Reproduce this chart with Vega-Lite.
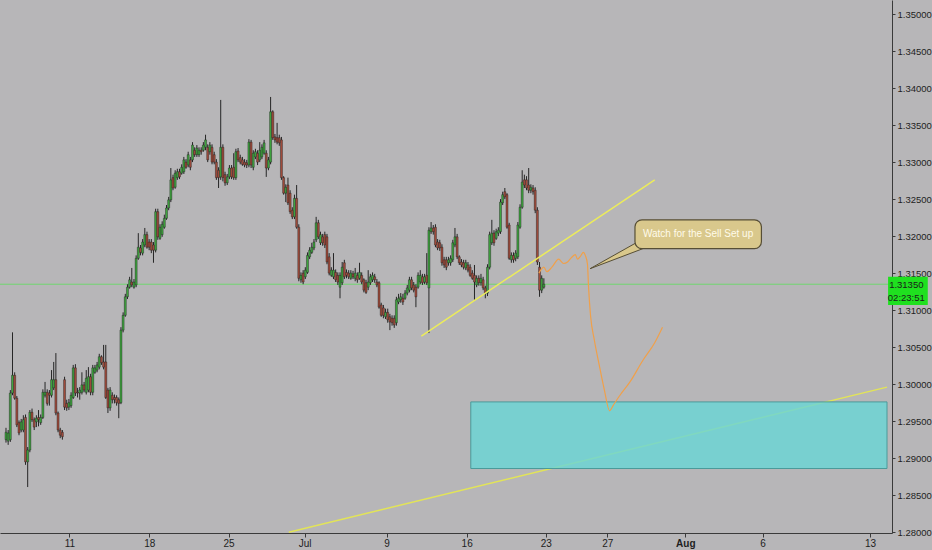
{
"$schema":"https://vega.github.io/schema/vega-lite/v6.json",
"width":892,"height":533,
"autosize":{"type":"none"},
"padding":{"left":0,"top":0,"right":40,"bottom":17},
"background":"#b7b6b8",
"config":{"view":{"stroke":null},"font":"Liberation Sans"},
"resolve":{"axis":{"x":"independent","y":"independent"}},
"datasets":{
"candles":[
{"i":0,"o":1.2925,"h":1.2941,"l":1.2921,"c":1.2935},
{"i":1,"o":1.2923,"h":1.2938,"l":1.2918,"c":1.2934},
{"i":2,"o":1.2925,"h":1.2992,"l":1.2922,"c":1.2988},
{"i":3,"o":1.2988,"h":1.3070,"l":1.2985,"c":1.3012},
{"i":4,"o":1.3012,"h":1.3016,"l":1.2979,"c":1.2981},
{"i":5,"o":1.2981,"h":1.2984,"l":1.2942,"c":1.2945},
{"i":6,"o":1.2948,"h":1.2951,"l":1.2931,"c":1.2934},
{"i":7,"o":1.2938,"h":1.2953,"l":1.2935,"c":1.2949},
{"i":8,"o":1.2938,"h":1.2958,"l":1.2935,"c":1.2952},
{"i":9,"o":1.2955,"h":1.2959,"l":1.2891,"c":1.2895},
{"i":10,"o":1.2895,"h":1.2915,"l":1.2861,"c":1.2911},
{"i":11,"o":1.2911,"h":1.2965,"l":1.2908,"c":1.2962},
{"i":12,"o":1.2962,"h":1.2967,"l":1.2949,"c":1.2952},
{"i":13,"o":1.2952,"h":1.2955,"l":1.2938,"c":1.2942},
{"i":14,"o":1.2949,"h":1.2958,"l":1.2942,"c":1.2954},
{"i":15,"o":1.2955,"h":1.2965,"l":1.2943,"c":1.2952},
{"i":16,"o":1.2948,"h":1.2959,"l":1.2945,"c":1.2955},
{"i":17,"o":1.2955,"h":1.2993,"l":1.2953,"c":1.2989},
{"i":18,"o":1.2985,"h":1.3003,"l":1.2982,"c":1.2989},
{"i":19,"o":1.2989,"h":1.2993,"l":1.2971,"c":1.2974},
{"i":20,"o":1.2988,"h":1.2992,"l":1.2971,"c":1.2985},
{"i":21,"o":1.2985,"h":1.3019,"l":1.2982,"c":1.3006},
{"i":22,"o":1.2995,"h":1.3030,"l":1.2992,"c":1.3006},
{"i":23,"o":1.3006,"h":1.3042,"l":1.2958,"c":1.2961},
{"i":24,"o":1.2961,"h":1.2963,"l":1.2935,"c":1.2938},
{"i":25,"o":1.2938,"h":1.2941,"l":1.2927,"c":1.2931},
{"i":26,"o":1.2935,"h":1.2938,"l":1.2925,"c":1.2929},
{"i":27,"o":1.3006,"h":1.3010,"l":1.2965,"c":1.2969},
{"i":28,"o":1.2974,"h":1.2979,"l":1.2964,"c":1.2968},
{"i":29,"o":1.2969,"h":1.2980,"l":1.2965,"c":1.2975},
{"i":30,"o":1.2971,"h":1.2989,"l":1.2968,"c":1.2985},
{"i":31,"o":1.2982,"h":1.3026,"l":1.2980,"c":1.3022},
{"i":32,"o":1.3022,"h":1.3027,"l":1.2984,"c":1.2988},
{"i":33,"o":1.2989,"h":1.2995,"l":1.2982,"c":1.2988},
{"i":34,"o":1.2988,"h":1.2996,"l":1.2979,"c":1.2992},
{"i":35,"o":1.2989,"h":1.3016,"l":1.2986,"c":1.2999},
{"i":36,"o":1.2999,"h":1.3003,"l":1.2989,"c":1.2992},
{"i":37,"o":1.2989,"h":1.3019,"l":1.2986,"c":1.3008},
{"i":38,"o":1.2992,"h":1.3023,"l":1.2989,"c":1.3010},
{"i":39,"o":1.3010,"h":1.3014,"l":1.2985,"c":1.2989},
{"i":40,"o":1.2989,"h":1.3026,"l":1.2985,"c":1.3022},
{"i":41,"o":1.3016,"h":1.3026,"l":1.3014,"c":1.3022},
{"i":42,"o":1.3019,"h":1.3030,"l":1.3016,"c":1.3026},
{"i":43,"o":1.3023,"h":1.3041,"l":1.3020,"c":1.3037},
{"i":44,"o":1.3037,"h":1.3039,"l":1.3026,"c":1.3029},
{"i":45,"o":1.3030,"h":1.3053,"l":1.3020,"c":1.3023},
{"i":46,"o":1.3030,"h":1.3053,"l":1.2980,"c":1.2982},
{"i":47,"o":1.2992,"h":1.2995,"l":1.2961,"c":1.2968},
{"i":48,"o":1.2968,"h":1.2996,"l":1.2964,"c":1.2992},
{"i":49,"o":1.2985,"h":1.2989,"l":1.2974,"c":1.2979},
{"i":50,"o":1.2982,"h":1.2986,"l":1.2974,"c":1.2979},
{"i":51,"o":1.2982,"h":1.2985,"l":1.2971,"c":1.2975},
{"i":52,"o":1.2979,"h":1.2982,"l":1.2954,"c":1.2974},
{"i":53,"o":1.2975,"h":1.3077,"l":1.2973,"c":1.3073},
{"i":54,"o":1.3073,"h":1.3097,"l":1.3070,"c":1.3093},
{"i":55,"o":1.3093,"h":1.3122,"l":1.3091,"c":1.3118},
{"i":56,"o":1.3118,"h":1.3135,"l":1.3115,"c":1.3131},
{"i":57,"o":1.3131,"h":1.3145,"l":1.3129,"c":1.3141},
{"i":58,"o":1.3138,"h":1.3157,"l":1.3131,"c":1.3134},
{"i":59,"o":1.3131,"h":1.3142,"l":1.3129,"c":1.3138},
{"i":60,"o":1.3134,"h":1.3174,"l":1.3131,"c":1.3170},
{"i":61,"o":1.3170,"h":1.3204,"l":1.3168,"c":1.3185},
{"i":62,"o":1.3184,"h":1.3188,"l":1.3174,"c":1.3178},
{"i":63,"o":1.3177,"h":1.3196,"l":1.3174,"c":1.3192},
{"i":64,"o":1.3188,"h":1.3211,"l":1.3185,"c":1.3202},
{"i":65,"o":1.3202,"h":1.3206,"l":1.3183,"c":1.3185},
{"i":66,"o":1.3192,"h":1.3196,"l":1.3181,"c":1.3185},
{"i":67,"o":1.3192,"h":1.3196,"l":1.3177,"c":1.3181},
{"i":68,"o":1.3188,"h":1.3192,"l":1.3164,"c":1.3181},
{"i":69,"o":1.3181,"h":1.3237,"l":1.3178,"c":1.3233},
{"i":70,"o":1.3233,"h":1.3237,"l":1.3195,"c":1.3199},
{"i":71,"o":1.3197,"h":1.3216,"l":1.3195,"c":1.3212},
{"i":72,"o":1.3202,"h":1.3220,"l":1.3199,"c":1.3216},
{"i":73,"o":1.3212,"h":1.3229,"l":1.3210,"c":1.3224},
{"i":74,"o":1.3224,"h":1.3242,"l":1.3222,"c":1.3238},
{"i":75,"o":1.3238,"h":1.3253,"l":1.3235,"c":1.3249},
{"i":76,"o":1.3249,"h":1.3292,"l":1.3246,"c":1.3276},
{"i":77,"o":1.3279,"h":1.3283,"l":1.3262,"c":1.3265},
{"i":78,"o":1.3266,"h":1.3289,"l":1.3264,"c":1.3285},
{"i":79,"o":1.3279,"h":1.3291,"l":1.3276,"c":1.3287},
{"i":80,"o":1.3287,"h":1.3291,"l":1.3277,"c":1.3280},
{"i":81,"o":1.3285,"h":1.3297,"l":1.3283,"c":1.3293},
{"i":82,"o":1.3287,"h":1.3307,"l":1.3284,"c":1.3303},
{"i":83,"o":1.3300,"h":1.3304,"l":1.3291,"c":1.3293},
{"i":84,"o":1.3296,"h":1.3314,"l":1.3293,"c":1.3310},
{"i":85,"o":1.3303,"h":1.3307,"l":1.3289,"c":1.3293},
{"i":86,"o":1.3303,"h":1.3327,"l":1.3300,"c":1.3323},
{"i":87,"o":1.3316,"h":1.3320,"l":1.3307,"c":1.3310},
{"i":88,"o":1.3310,"h":1.3323,"l":1.3307,"c":1.3319},
{"i":89,"o":1.3310,"h":1.3320,"l":1.3307,"c":1.3316},
{"i":90,"o":1.3316,"h":1.3320,"l":1.3310,"c":1.3314},
{"i":91,"o":1.3316,"h":1.3327,"l":1.3314,"c":1.3323},
{"i":92,"o":1.3320,"h":1.3337,"l":1.3316,"c":1.3330},
{"i":93,"o":1.3320,"h":1.3324,"l":1.3300,"c":1.3303},
{"i":94,"o":1.3314,"h":1.3327,"l":1.3310,"c":1.3323},
{"i":95,"o":1.3320,"h":1.3324,"l":1.3297,"c":1.3300},
{"i":96,"o":1.3310,"h":1.3314,"l":1.3297,"c":1.3300},
{"i":97,"o":1.3300,"h":1.3304,"l":1.3276,"c":1.3279},
{"i":98,"o":1.3289,"h":1.3293,"l":1.3265,"c":1.3279},
{"i":99,"o":1.3280,"h":1.3384,"l":1.3276,"c":1.3320},
{"i":100,"o":1.3320,"h":1.3324,"l":1.3274,"c":1.3279},
{"i":101,"o":1.3283,"h":1.3287,"l":1.3268,"c":1.3272},
{"i":102,"o":1.3272,"h":1.3284,"l":1.3269,"c":1.3280},
{"i":103,"o":1.3280,"h":1.3296,"l":1.3277,"c":1.3292},
{"i":104,"o":1.3292,"h":1.3296,"l":1.3277,"c":1.3280},
{"i":105,"o":1.3293,"h":1.3312,"l":1.3276,"c":1.3279},
{"i":106,"o":1.3279,"h":1.3318,"l":1.3276,"c":1.3314},
{"i":107,"o":1.3315,"h":1.3319,"l":1.3300,"c":1.3303},
{"i":108,"o":1.3306,"h":1.3310,"l":1.3297,"c":1.3300},
{"i":109,"o":1.3303,"h":1.3307,"l":1.3295,"c":1.3297},
{"i":110,"o":1.3300,"h":1.3304,"l":1.3293,"c":1.3296},
{"i":111,"o":1.3299,"h":1.3303,"l":1.3292,"c":1.3296},
{"i":112,"o":1.3296,"h":1.3331,"l":1.3293,"c":1.3327},
{"i":113,"o":1.3327,"h":1.3330,"l":1.3292,"c":1.3296},
{"i":114,"o":1.3293,"h":1.3316,"l":1.3289,"c":1.3312},
{"i":115,"o":1.3307,"h":1.3318,"l":1.3304,"c":1.3314},
{"i":116,"o":1.3312,"h":1.3316,"l":1.3296,"c":1.3300},
{"i":117,"o":1.3303,"h":1.3327,"l":1.3300,"c":1.3316},
{"i":118,"o":1.3307,"h":1.3324,"l":1.3304,"c":1.3320},
{"i":119,"o":1.3312,"h":1.3330,"l":1.3310,"c":1.3326},
{"i":120,"o":1.3312,"h":1.3316,"l":1.3280,"c":1.3292},
{"i":121,"o":1.3292,"h":1.3307,"l":1.3289,"c":1.3303},
{"i":122,"o":1.3300,"h":1.3388,"l":1.3297,"c":1.3368},
{"i":123,"o":1.3368,"h":1.3370,"l":1.3330,"c":1.3333},
{"i":124,"o":1.3334,"h":1.3338,"l":1.3326,"c":1.3330},
{"i":125,"o":1.3333,"h":1.3353,"l":1.3324,"c":1.3327},
{"i":126,"o":1.3333,"h":1.3337,"l":1.3322,"c":1.3326},
{"i":127,"o":1.3330,"h":1.3334,"l":1.3276,"c":1.3279},
{"i":128,"o":1.3279,"h":1.3281,"l":1.3256,"c":1.3258},
{"i":129,"o":1.3258,"h":1.3270,"l":1.3246,"c":1.3266},
{"i":130,"o":1.3269,"h":1.3279,"l":1.3242,"c":1.3245},
{"i":131,"o":1.3258,"h":1.3262,"l":1.3230,"c":1.3233},
{"i":132,"o":1.3235,"h":1.3239,"l":1.3223,"c":1.3226},
{"i":133,"o":1.3226,"h":1.3256,"l":1.3223,"c":1.3251},
{"i":134,"o":1.3251,"h":1.3269,"l":1.3210,"c":1.3212},
{"i":135,"o":1.3212,"h":1.3216,"l":1.3139,"c":1.3143},
{"i":136,"o":1.3141,"h":1.3151,"l":1.3137,"c":1.3147},
{"i":137,"o":1.3150,"h":1.3154,"l":1.3135,"c":1.3138},
{"i":138,"o":1.3145,"h":1.3158,"l":1.3142,"c":1.3154},
{"i":139,"o":1.3151,"h":1.3178,"l":1.3149,"c":1.3174},
{"i":140,"o":1.3172,"h":1.3185,"l":1.3169,"c":1.3181},
{"i":141,"o":1.3178,"h":1.3191,"l":1.3176,"c":1.3185},
{"i":142,"o":1.3184,"h":1.3196,"l":1.3181,"c":1.3192},
{"i":143,"o":1.3195,"h":1.3226,"l":1.3192,"c":1.3218},
{"i":144,"o":1.3218,"h":1.3222,"l":1.3196,"c":1.3199},
{"i":145,"o":1.3191,"h":1.3206,"l":1.3188,"c":1.3202},
{"i":146,"o":1.3199,"h":1.3203,"l":1.3187,"c":1.3191},
{"i":147,"o":1.3202,"h":1.3206,"l":1.3184,"c":1.3188},
{"i":148,"o":1.3199,"h":1.3203,"l":1.3162,"c":1.3165},
{"i":149,"o":1.3172,"h":1.3177,"l":1.3147,"c":1.3150},
{"i":150,"o":1.3147,"h":1.3158,"l":1.3145,"c":1.3154},
{"i":151,"o":1.3145,"h":1.3177,"l":1.3142,"c":1.3154},
{"i":152,"o":1.3151,"h":1.3155,"l":1.3138,"c":1.3141},
{"i":153,"o":1.3147,"h":1.3151,"l":1.3134,"c":1.3138},
{"i":154,"o":1.3131,"h":1.3151,"l":1.3116,"c":1.3147},
{"i":155,"o":1.3137,"h":1.3165,"l":1.3134,"c":1.3158},
{"i":156,"o":1.3164,"h":1.3168,"l":1.3142,"c":1.3145},
{"i":157,"o":1.3151,"h":1.3155,"l":1.3143,"c":1.3147},
{"i":158,"o":1.3150,"h":1.3154,"l":1.3142,"c":1.3145},
{"i":159,"o":1.3143,"h":1.3154,"l":1.3141,"c":1.3150},
{"i":160,"o":1.3149,"h":1.3153,"l":1.3142,"c":1.3145},
{"i":161,"o":1.3143,"h":1.3157,"l":1.3139,"c":1.3150},
{"i":162,"o":1.3147,"h":1.3151,"l":1.3137,"c":1.3141},
{"i":163,"o":1.3143,"h":1.3164,"l":1.3141,"c":1.3151},
{"i":164,"o":1.3147,"h":1.3151,"l":1.3135,"c":1.3138},
{"i":165,"o":1.3141,"h":1.3143,"l":1.3124,"c":1.3127},
{"i":166,"o":1.3137,"h":1.3141,"l":1.3122,"c":1.3124},
{"i":167,"o":1.3131,"h":1.3154,"l":1.3127,"c":1.3138},
{"i":168,"o":1.3137,"h":1.3149,"l":1.3134,"c":1.3145},
{"i":169,"o":1.3141,"h":1.3151,"l":1.3138,"c":1.3147},
{"i":170,"o":1.3145,"h":1.3149,"l":1.3137,"c":1.3141},
{"i":171,"o":1.3138,"h":1.3142,"l":1.3131,"c":1.3134},
{"i":172,"o":1.3137,"h":1.3139,"l":1.3102,"c":1.3104},
{"i":173,"o":1.3107,"h":1.3110,"l":1.3091,"c":1.3093},
{"i":174,"o":1.3103,"h":1.3107,"l":1.3089,"c":1.3093},
{"i":175,"o":1.3091,"h":1.3102,"l":1.3088,"c":1.3097},
{"i":176,"o":1.3097,"h":1.3102,"l":1.3083,"c":1.3087},
{"i":177,"o":1.3091,"h":1.3095,"l":1.3073,"c":1.3084},
{"i":178,"o":1.3089,"h":1.3093,"l":1.3079,"c":1.3083},
{"i":179,"o":1.3089,"h":1.3093,"l":1.3076,"c":1.3080},
{"i":180,"o":1.3083,"h":1.3118,"l":1.3079,"c":1.3114},
{"i":181,"o":1.3111,"h":1.3122,"l":1.3108,"c":1.3116},
{"i":182,"o":1.3114,"h":1.3123,"l":1.3110,"c":1.3118},
{"i":183,"o":1.3116,"h":1.3122,"l":1.3107,"c":1.3111},
{"i":184,"o":1.3116,"h":1.3127,"l":1.3114,"c":1.3123},
{"i":185,"o":1.3123,"h":1.3134,"l":1.3120,"c":1.3130},
{"i":186,"o":1.3127,"h":1.3145,"l":1.3124,"c":1.3141},
{"i":187,"o":1.3141,"h":1.3145,"l":1.3127,"c":1.3130},
{"i":188,"o":1.3134,"h":1.3138,"l":1.3124,"c":1.3127},
{"i":189,"o":1.3131,"h":1.3135,"l":1.3104,"c":1.3118},
{"i":190,"o":1.3131,"h":1.3151,"l":1.3129,"c":1.3147},
{"i":191,"o":1.3138,"h":1.3154,"l":1.3135,"c":1.3147},
{"i":192,"o":1.3145,"h":1.3149,"l":1.3134,"c":1.3137},
{"i":193,"o":1.3138,"h":1.3149,"l":1.3135,"c":1.3145},
{"i":194,"o":1.3147,"h":1.3177,"l":1.3134,"c":1.3137},
{"i":195,"o":1.3130,"h":1.3212,"l":1.3069,"c":1.3208},
{"i":196,"o":1.3206,"h":1.3219,"l":1.3203,"c":1.3211},
{"i":197,"o":1.3211,"h":1.3215,"l":1.3202,"c":1.3206},
{"i":198,"o":1.3212,"h":1.3216,"l":1.3185,"c":1.3188},
{"i":199,"o":1.3192,"h":1.3196,"l":1.3181,"c":1.3184},
{"i":200,"o":1.3191,"h":1.3195,"l":1.3180,"c":1.3184},
{"i":201,"o":1.3185,"h":1.3189,"l":1.3160,"c":1.3164},
{"i":202,"o":1.3168,"h":1.3172,"l":1.3157,"c":1.3161},
{"i":203,"o":1.3168,"h":1.3172,"l":1.3154,"c":1.3158},
{"i":204,"o":1.3164,"h":1.3172,"l":1.3160,"c":1.3168},
{"i":205,"o":1.3164,"h":1.3174,"l":1.3160,"c":1.3170},
{"i":206,"o":1.3168,"h":1.3195,"l":1.3165,"c":1.3191},
{"i":207,"o":1.3188,"h":1.3211,"l":1.3185,"c":1.3199},
{"i":208,"o":1.3199,"h":1.3203,"l":1.3169,"c":1.3172},
{"i":209,"o":1.3172,"h":1.3174,"l":1.3161,"c":1.3164},
{"i":210,"o":1.3165,"h":1.3169,"l":1.3158,"c":1.3161},
{"i":211,"o":1.3164,"h":1.3168,"l":1.3155,"c":1.3158},
{"i":212,"o":1.3157,"h":1.3168,"l":1.3154,"c":1.3164},
{"i":213,"o":1.3161,"h":1.3165,"l":1.3151,"c":1.3154},
{"i":214,"o":1.3158,"h":1.3162,"l":1.3145,"c":1.3147},
{"i":215,"o":1.3150,"h":1.3154,"l":1.3141,"c":1.3143},
{"i":216,"o":1.3147,"h":1.3161,"l":1.3114,"c":1.3138},
{"i":217,"o":1.3134,"h":1.3147,"l":1.3131,"c":1.3143},
{"i":218,"o":1.3143,"h":1.3147,"l":1.3133,"c":1.3137},
{"i":219,"o":1.3137,"h":1.3149,"l":1.3133,"c":1.3143},
{"i":220,"o":1.3141,"h":1.3145,"l":1.3127,"c":1.3130},
{"i":221,"o":1.3130,"h":1.3133,"l":1.3116,"c":1.3123},
{"i":222,"o":1.3123,"h":1.3162,"l":1.3119,"c":1.3158},
{"i":223,"o":1.3158,"h":1.3206,"l":1.3155,"c":1.3202},
{"i":224,"o":1.3191,"h":1.3222,"l":1.3188,"c":1.3204},
{"i":225,"o":1.3204,"h":1.3208,"l":1.3187,"c":1.3191},
{"i":226,"o":1.3197,"h":1.3210,"l":1.3195,"c":1.3206},
{"i":227,"o":1.3204,"h":1.3212,"l":1.3200,"c":1.3208},
{"i":228,"o":1.3206,"h":1.3250,"l":1.3203,"c":1.3246},
{"i":229,"o":1.3245,"h":1.3260,"l":1.3242,"c":1.3256},
{"i":230,"o":1.3260,"h":1.3265,"l":1.3250,"c":1.3253},
{"i":231,"o":1.3256,"h":1.3258,"l":1.3210,"c":1.3212},
{"i":232,"o":1.3215,"h":1.3218,"l":1.3168,"c":1.3170},
{"i":233,"o":1.3168,"h":1.3178,"l":1.3164,"c":1.3174},
{"i":234,"o":1.3174,"h":1.3178,"l":1.3164,"c":1.3168},
{"i":235,"o":1.3170,"h":1.3181,"l":1.3166,"c":1.3177},
{"i":236,"o":1.3172,"h":1.3219,"l":1.3169,"c":1.3215},
{"i":237,"o":1.3212,"h":1.3243,"l":1.3210,"c":1.3239},
{"i":238,"o":1.3239,"h":1.3289,"l":1.3237,"c":1.3273},
{"i":239,"o":1.3276,"h":1.3283,"l":1.3265,"c":1.3269},
{"i":240,"o":1.3276,"h":1.3281,"l":1.3262,"c":1.3265},
{"i":241,"o":1.3269,"h":1.3292,"l":1.3258,"c":1.3262},
{"i":242,"o":1.3262,"h":1.3270,"l":1.3258,"c":1.3266},
{"i":243,"o":1.3265,"h":1.3269,"l":1.3256,"c":1.3260},
{"i":244,"o":1.3262,"h":1.3266,"l":1.3231,"c":1.3235},
{"i":245,"o":1.3235,"h":1.3239,"l":1.3161,"c":1.3165},
{"i":246,"o":1.3158,"h":1.3165,"l":1.3118,"c":1.3127},
{"i":247,"o":1.3127,"h":1.3147,"l":1.3123,"c":1.3143},
{"i":248,"o":1.3131,"h":1.3143,"l":1.3129,"c":1.3135}
],
"hline":[{"p":1.3135}],
"trendLong":[{"i":130.4,"p":1.2800},{"i":406.2,"p":1.2996}],
"trendShort":[{"i":191.5,"p":1.3065},{"i":299.1,"p":1.3276}],
"zone":[{"i":214.3,"i2":406.2,"p":1.2976,"p2":1.2886}],
"projection":[
{"k":0,"i":245.7,"p":1.3150},{"k":1,"i":248.0,"p":1.3158},{"k":2,"i":249.4,"p":1.3152},
{"k":3,"i":251.7,"p":1.3158},{"k":4,"i":254.8,"p":1.3169},{"k":5,"i":257.1,"p":1.3163},
{"k":6,"i":258.9,"p":1.3165},{"k":7,"i":260.7,"p":1.3171},{"k":8,"i":262.5,"p":1.3175},
{"k":9,"i":263.5,"p":1.3169},{"k":10,"i":264.9,"p":1.3173},{"k":11,"i":266.2,"p":1.3178},
{"k":12,"i":267.1,"p":1.3174},{"k":13,"i":268.1,"p":1.3162},{"k":14,"i":268.6,"p":1.3131},
{"k":15,"i":269.5,"p":1.3093},{"k":16,"i":271.3,"p":1.3059},{"k":17,"i":273.5,"p":1.3026},
{"k":18,"i":275.9,"p":1.2992},{"k":19,"i":278.3,"p":1.2964},{"k":20,"i":280.1,"p":1.2972},
{"k":21,"i":283.1,"p":1.2985},{"k":22,"i":287.7,"p":1.3003},{"k":23,"i":293.6,"p":1.3032},
{"k":24,"i":299.1,"p":1.3056},{"k":25,"i":302.7,"p":1.3077}
],
"tail":[{"i":269.3,"p":1.3156,"p2":1.3156},{"i":293.6,"p":1.3196,"p2":1.3183}],
"callout":[{"i":290.0,"i2":348.3,"p":1.3222,"p2":1.3183,"tx":319.1,"tp":1.3203,"label":"Watch for the Sell Set up"}],
"priceTag":[{"i":406.7,"i2":425.0,"p":1.3145,"p2":1.3107}],
"priceText":[{"i":415.1,"p":1.3134,"label":"1.31350"},{"i":415.1,"p":1.3116,"label":"02:23:51"}]
},
"layer":[
{"data":{"name":"hline"},"mark":{"type":"rule","color":"#6fd66f","strokeWidth":1},
 "encoding":{"y":{"field":"p","type":"quantitative","scale":{"domain":[1.27989,1.3519],"nice":false,"zero":false},"axis":null}}},
{"data":{"name":"trendLong"},"mark":{"type":"line","color":"#e2e458","strokeWidth":1.5},
 "encoding":{"x":{"field":"i","type":"quantitative","scale":{"domain":[-0.46,406.2],"nice":false,"zero":false},"axis":null},
  "y":{"field":"p","type":"quantitative","scale":{"domain":[1.27989,1.3519],"nice":false,"zero":false},"axis":null}}},
{"data":{"name":"zone"},"mark":{"type":"rect","fill":"#6ad6d6","fillOpacity":0.82,"stroke":"#4a9a9a","strokeWidth":1},
 "encoding":{"x":{"field":"i","type":"quantitative","scale":{"domain":[-0.46,406.2],"nice":false,"zero":false},"axis":null},"x2":{"field":"i2"},
  "y":{"field":"p","type":"quantitative","scale":{"domain":[1.27989,1.3519],"nice":false,"zero":false},"axis":null},"y2":{"field":"p2"}}},
{"data":{"name":"candles"},"mark":{"type":"rule","color":"#262626","strokeWidth":1},
 "encoding":{"x":{"field":"i","type":"quantitative","scale":{"domain":[-0.46,406.2],"nice":false,"zero":false},
   "axis":{"orient":"bottom","title":null,"grid":false,"values":[29.2,66.1,102.6,137.7,175.5,212.4,248.9,277.2,313.2,348.8,398.4],
    "labelExpr":"datum.value < 40 ? '11' : datum.value < 80 ? '18' : datum.value < 120 ? '25' : datum.value < 150 ? 'Jul' : datum.value < 190 ? '9' : datum.value < 230 ? '16' : datum.value < 260 ? '23' : datum.value < 290 ? '27' : datum.value < 330 ? 'Aug' : datum.value < 370 ? '6' : '13'",
    "labelFontWeight":{"condition":{"test":"datum.value > 300 && datum.value < 330","value":"bold"},"value":"normal"},
    "domainColor":"#3a3a3a","tickColor":"#3a3a3a","tickSize":4,"labelFontSize":10,"labelColor":"#1e1e1e","labelPadding":1,"labelFlush":false,"labelOverlap":false,"labelFont":"Liberation Sans"}},
  "y":{"field":"l","type":"quantitative","scale":{"domain":[1.27989,1.3519],"nice":false,"zero":false},
   "axis":{"orient":"right","title":null,"grid":false,"values":[1.28,1.285,1.29,1.295,1.3,1.305,1.31,1.315,1.32,1.325,1.33,1.335,1.34,1.345,1.35],
    "format":".5f","domainColor":"#3a3a3a","tickColor":"#3a3a3a","tickSize":3,"labelFontSize":9.5,"labelColor":"#1e1e1e","labelPadding":2,"labelFlush":false,"labelOverlap":false,"labelBound":false,"labelFont":"Liberation Sans"}},
  "y2":{"field":"h"}}},
{"data":{"name":"candles"},"mark":{"type":"bar","orient":"vertical","size":2,"stroke":"#1c1c1c","strokeWidth":0.4},
 "encoding":{"x":{"field":"i","type":"quantitative","scale":{"domain":[-0.46,406.2],"nice":false,"zero":false},"axis":null},
  "y":{"field":"o","type":"quantitative","scale":{"domain":[1.27989,1.3519],"nice":false,"zero":false},"axis":null},"y2":{"field":"c"},
  "fill":{"condition":{"test":"datum.c >= datum.o","value":"#3fa53f"},"value":"#a24c3c"}}},
{"data":{"name":"trendShort"},"mark":{"type":"line","color":"#ecec5a","strokeWidth":1.5},
 "encoding":{"x":{"field":"i","type":"quantitative","scale":{"domain":[-0.46,406.2],"nice":false,"zero":false},"axis":null},
  "y":{"field":"p","type":"quantitative","scale":{"domain":[1.27989,1.3519],"nice":false,"zero":false},"axis":null}}},
{"data":{"name":"projection"},"mark":{"type":"line","color":"#f0a04a","strokeWidth":1.2,"interpolate":"monotone"},
 "encoding":{"x":{"field":"i","type":"quantitative","scale":{"domain":[-0.46,406.2],"nice":false,"zero":false},"axis":null},
  "y":{"field":"p","type":"quantitative","scale":{"domain":[1.27989,1.3519],"nice":false,"zero":false},"axis":null},
  "order":{"field":"k","type":"quantitative"}}},
{"data":{"name":"tail"},"mark":{"type":"area","fill":"#d9c88c","stroke":"#564e36","strokeWidth":1,"orient":"vertical"},
 "encoding":{"x":{"field":"i","type":"quantitative","scale":{"domain":[-0.46,406.2],"nice":false,"zero":false},"axis":null},
  "y":{"field":"p","type":"quantitative","scale":{"domain":[1.27989,1.3519],"nice":false,"zero":false},"axis":null},"y2":{"field":"p2"}}},
{"data":{"name":"callout"},"mark":{"type":"rect","fill":"#d9c88c","stroke":"#564e36","strokeWidth":1.2,"cornerRadius":7},
 "encoding":{"x":{"field":"i","type":"quantitative","scale":{"domain":[-0.46,406.2],"nice":false,"zero":false},"axis":null},"x2":{"field":"i2"},
  "y":{"field":"p","type":"quantitative","scale":{"domain":[1.27989,1.3519],"nice":false,"zero":false},"axis":null},"y2":{"field":"p2"}}},
{"data":{"name":"callout"},"mark":{"type":"text","color":"#fffbea","fontSize":10,"font":"Liberation Sans","align":"center","baseline":"middle"},
 "encoding":{"x":{"field":"tx","type":"quantitative","scale":{"domain":[-0.46,406.2],"nice":false,"zero":false},"axis":null},
  "y":{"field":"tp","type":"quantitative","scale":{"domain":[1.27989,1.3519],"nice":false,"zero":false},"axis":null},
  "text":{"field":"label"}}},
{"data":{"name":"priceTag"},"mark":{"type":"rect","fill":"#1fe01f","clip":false},
 "encoding":{"x":{"field":"i","type":"quantitative","scale":{"domain":[-0.46,406.2],"nice":false,"zero":false},"axis":null},"x2":{"field":"i2"},
  "y":{"field":"p","type":"quantitative","scale":{"domain":[1.27989,1.3519],"nice":false,"zero":false},"axis":null},"y2":{"field":"p2"}}},
{"data":{"name":"priceText"},"mark":{"type":"text","color":"#1a1a1a","fontSize":9.5,"font":"Liberation Sans","align":"center","baseline":"middle","clip":false},
 "encoding":{"x":{"field":"i","type":"quantitative","scale":{"domain":[-0.46,406.2],"nice":false,"zero":false},"axis":null},
  "y":{"field":"p","type":"quantitative","scale":{"domain":[1.27989,1.3519],"nice":false,"zero":false},"axis":null},
  "text":{"field":"label"}}}
]
}
